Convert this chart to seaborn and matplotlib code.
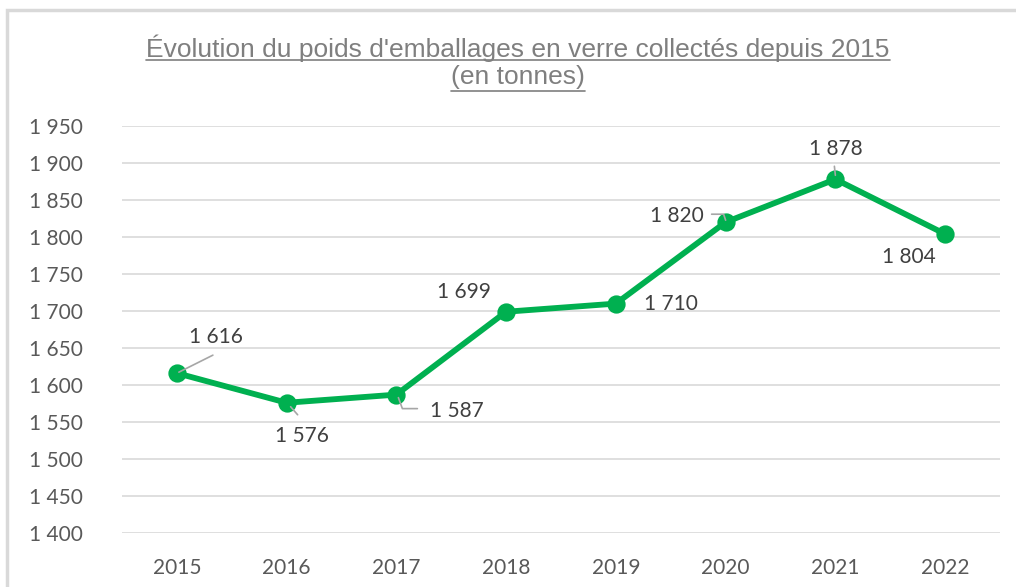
import matplotlib
matplotlib.use("Agg")
import matplotlib.pyplot as plt
import seaborn as sns
from matplotlib.patches import Rectangle
from matplotlib.lines import Line2D

years = ["2015", "2016", "2017", "2018", "2019", "2020", "2021", "2022"]
tonnes = [1616, 1576, 1587, 1699, 1710, 1820, 1878, 1804]
value_labels = ["1 616", "1 576", "1 587", "1 699", "1 710", "1 820", "1 878", "1 804"]
y_ticks = [1400, 1450, 1500, 1550, 1600, 1650, 1700, 1750, 1800, 1850, 1900, 1950]
y_tick_labels = ["1 400", "1 450", "1 500", "1 550", "1 600", "1 650", "1 700",
                 "1 750", "1 800", "1 850", "1 900", "1 950"]
title = "Évolution du poids d'emballages en verre collectés depuis 2015\n(en tonnes)"

sns.set_theme(style="white")
plt.rcParams['font.family'] = ['Lato', 'DejaVu Sans']

fig = plt.figure(figsize=(10.16, 5.87), dpi=100)
ax = fig.add_axes([122/1016, 1-533/587, (1000-122)/1016, (533-126)/587])

green = "#00B050"
sns.pointplot(x=years, y=tonnes, ax=ax, color=green, markers="o",
              linestyles="-", linewidth=4.2, markersize=10, errorbar=None)

ax.set_ylim(1400, 1950)
ax.set_xlim(-0.5, 7.5)
ax.set_yticks(y_ticks)
ax.set_yticklabels(y_tick_labels)
ax.grid(axis='y', color='#d9d9d9', linewidth=1.2)
ax.set_axisbelow(True)
for s in ax.spines.values():
    s.set_visible(False)
ax.tick_params(axis='both', length=0, labelsize=15, colors='#595959', pad=0)
ax.tick_params(axis='y', pad=28)
ax.tick_params(axis='x', pad=18)
ax.set_xlabel("")
ax.set_ylabel("")

# label offsets in pixels (dx, dy up) relative to the point
offsets = [(39, 36), (15, -33), (60, -16), (-42, 20), (55, 0), (-49, 6), (0, 30), (-36, -23)]
for i, (lab, off) in enumerate(zip(value_labels, offsets)):
    ax.annotate(lab, (i, tonnes[i]), xytext=off, textcoords='offset pixels',
                ha='center', va='center', fontsize=15, color='#404040')

# leader lines (offset pixels)
leaders = {0: [(2, 1), (36, 18)], 1: [(4, -4), (11, -12)],
           2: [(2, -3), (6, -14), (21, -14)], 5: [(-14, 8), (-2, 8), (0, 2)],
           6: [(-1, 13), (0, 4)]}
for i, pts in leaders.items():
    base = ax.transData.transform((i, tonnes[i]))
    xs = [base[0] + p[0] for p in pts]
    ys = [base[1] + p[1] for p in pts]
    ln = Line2D(xs, ys, transform=None, color='#a6a6a6', linewidth=1.2, zorder=5)
    ln.set_figure(fig)
    fig.lines.append(ln)

# title
title_family = ['Liberation Sans Narrow', 'Liberation Sans', 'DejaVu Sans']
title_size = 19
fig.text(518/1016, 1-62/587, title, ha='center', va='center', fontsize=title_size,
         color='#7f7f7f', family=title_family, linespacing=1.15)

# frame
fig.patches.append(Rectangle((7/1016, 0-0.05), 1.2, 1-10/587+0.05, transform=fig.transFigure,
                             fill=False, edgecolor='#d9d9d9', linewidth=2.5))

fig.canvas.draw()
r = fig.canvas.get_renderer()
# underline each title line
lines = title.split("\n")
centers = [46, 77]
for line, cy in zip(lines, centers):
    tmp = fig.text(0, 0, line, fontsize=title_size, family=title_family)
    bb = tmp.get_window_extent(r)
    tmp.remove()
    w = bb.width
    y = 587 - (cy + 14)
    ln = Line2D([518 - w/2, 518 + w/2], [y, y], transform=None,
                color='#7f7f7f', linewidth=1.2)
    ln.set_figure(fig)
    fig.lines.append(ln)

fig.savefig("out.png", dpi=100)
